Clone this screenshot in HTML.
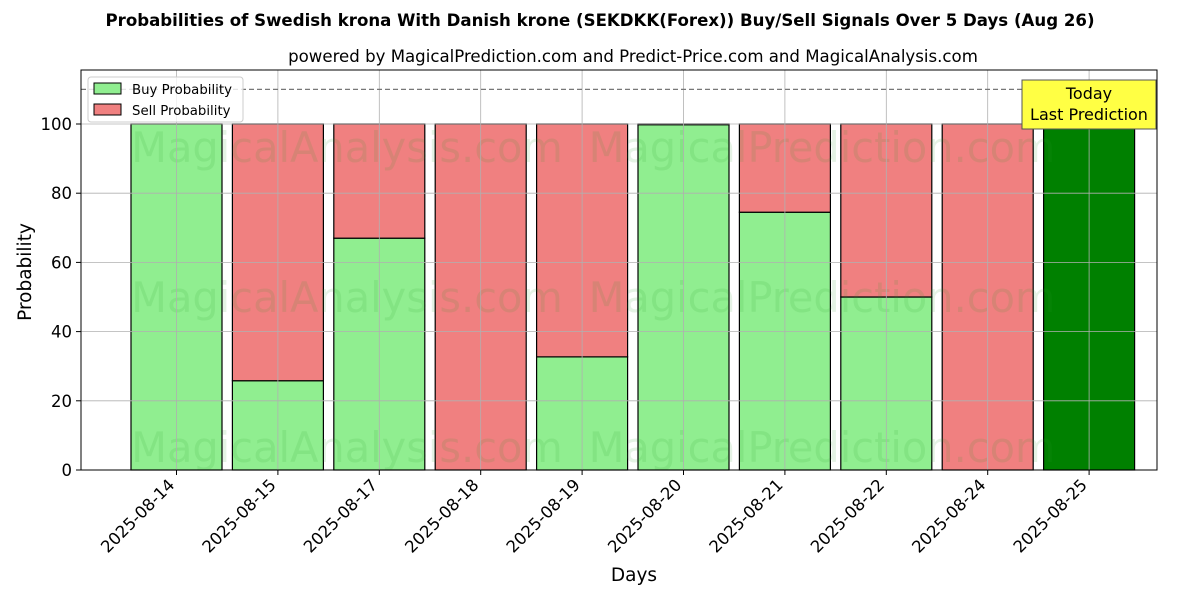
<!DOCTYPE html>
<html><head><meta charset="utf-8"><style>
body{margin:0;background:#fff;}
svg text{font-family:"DejaVu Sans","Liberation Sans",sans-serif;}
</style></head><body>
<svg id="chart" width="1200" height="600" xmlns="http://www.w3.org/2000/svg">
<rect width="1200" height="600" fill="#fff"/>
<text x="600" y="26" text-anchor="middle" font-size="16.6" font-weight="bold">Probabilities of Swedish krona With Danish krone (SEKDKK(Forex)) Buy/Sell Signals Over 5 Days (Aug 26)</text>
<text x="633" y="62" text-anchor="middle" font-size="16.6">powered by MagicalPrediction.com and Predict-Price.com and MagicalAnalysis.com</text>
<g id="bars"></g>
<g id="wm" fill="#2ca02c" fill-opacity="0.12" font-size="41.5">
<text x="347" y="162" text-anchor="middle">MagicalAnalysis.com</text>
<text x="822" y="162" text-anchor="middle">MagicalPrediction.com</text>
<text x="347" y="312" text-anchor="middle">MagicalAnalysis.com</text>
<text x="822" y="312" text-anchor="middle">MagicalPrediction.com</text>
<text x="347" y="462" text-anchor="middle">MagicalAnalysis.com</text>
<text x="822" y="462" text-anchor="middle">MagicalPrediction.com</text>
</g>
<g id="grid"></g>
<g id="axes"></g>
<rect x="81" y="70" width="1076" height="400" fill="none" stroke="#000" stroke-width="1"/>
<text x="634" y="581" text-anchor="middle" font-size="18.5">Days</text>
<text x="31" y="272" text-anchor="middle" font-size="18.5" transform="rotate(-90 31 272)">Probability</text>
<g>
<rect x="88" y="77" width="155" height="45" fill="#fff" fill-opacity="0.8" stroke="#ccc" rx="3"/>
<rect x="94" y="83" width="27" height="11" fill="#90ee90" stroke="#000"/>
<text x="132" y="94" font-size="13.3">Buy Probability</text>
<rect x="94" y="104" width="27" height="11" fill="#f08080" stroke="#000"/>
<text x="132" y="115" font-size="13.3">Sell Probability</text>
</g>
<g>
<rect x="1022" y="80" width="134" height="49" fill="#ffff44" stroke="#555" stroke-width="1"/>
<text x="1089" y="99" text-anchor="middle" font-size="16">Today</text>
<text x="1089" y="120" text-anchor="middle" font-size="16">Last Prediction</text>
</g>
</svg>
<script>
const categories=["2025-08-14","2025-08-15","2025-08-17","2025-08-18","2025-08-19","2025-08-20","2025-08-21","2025-08-22","2025-08-24","2025-08-25"];
const buyValues=[100,25.8,67,0,32.7,99.8,74.5,50,0,100];
const sellValues=[0,74.2,33,100,67.3,0.2,25.5,50,100,0];
const yTicks=[0,20,40,60,80,100];
const todayIndex=9;
const NS="http://www.w3.org/2000/svg";
function yS(v){return 470-v*3.46;}
function xS(i){return 176.5+i*101.4;}
const bw=91;
const bars=document.getElementById('bars'),grid=document.getElementById('grid'),axes=document.getElementById('axes');
function mk(tag,attrs,parent){const e=document.createElementNS(NS,tag);for(const k in attrs)e.setAttribute(k,attrs[k]);parent.appendChild(e);return e;}
categories.forEach((c,i)=>{
  const x=xS(i)-bw/2;
  const b=buyValues[i],s=sellValues[i];
  if(b>0){const r=mk('rect',{x:x,y:yS(b),width:bw,height:yS(0)-yS(b),fill:i===todayIndex?'#008000':'#90ee90',stroke:'#000','stroke-width':1.2},bars);
    
    }
  if(s>0){const r=mk('rect',{x:x,y:yS(b+s),width:bw,height:yS(b)-yS(b+s),fill:'#f08080',stroke:'#000','stroke-width':1.2},bars);
    
    }
  const g=mk('line',{x1:xS(i),x2:xS(i),y1:70,y2:470,stroke:'#b0b0b0','stroke-width':0.8},grid);
  
  
  mk('line',{x1:xS(i),x2:xS(i),y1:470,y2:475,stroke:'#000'},axes);
  const tx=xS(i)-1, ty=486;
  const t=mk('text',{x:tx,y:ty,'font-size':16.5,'text-anchor':'end',transform:'rotate(-45 '+tx+' '+ty+')'},axes);
  t.textContent=c;
  
  
});
yTicks.forEach(v=>{
  const g=mk('line',{x1:81,x2:1157,y1:yS(v),y2:yS(v),stroke:'#b0b0b0','stroke-width':0.8},grid);
  
  
  mk('line',{x1:76,x2:81,y1:yS(v),y2:yS(v),stroke:'#000'},axes);
  const t=mk('text',{x:72,y:yS(v)+6,'font-size':16.5,'text-anchor':'end'},axes);
  t.textContent=v;
  
  
});
const d=mk('line',{x1:81,x2:1157,y1:yS(110),y2:yS(110),stroke:'#777','stroke-width':1.2,'stroke-dasharray':'5,3'},grid);


</script>
</body></html>
